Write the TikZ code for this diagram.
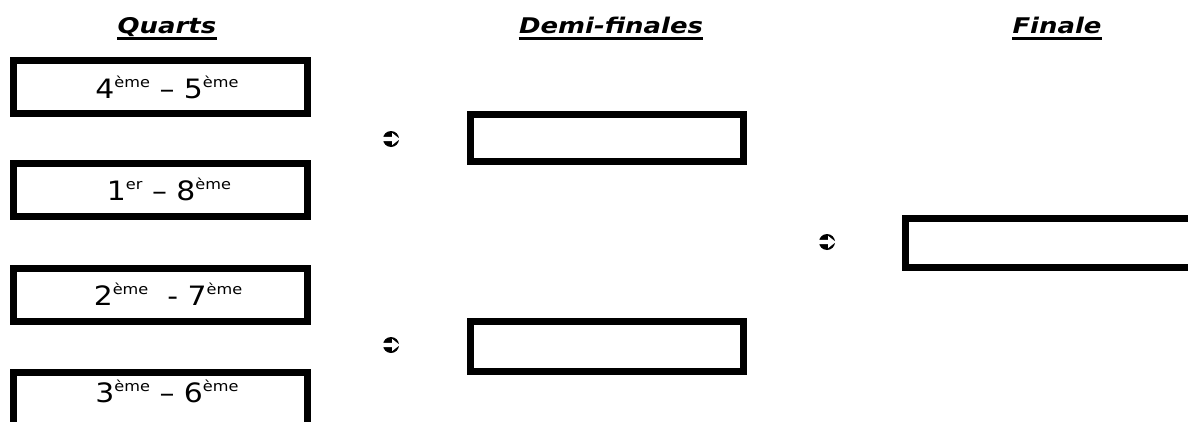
\documentclass[tikz,border=0pt]{standalone}
\usepackage{fontspec}
\usepackage{graphicx}
\setmainfont{DejaVu Sans}
\newcommand\sx[1]{\raisebox{0.40em}{\fontsize{10.8}{12}\selectfont #1}}
\newcommand\wide[1]{\scalebox{1.12}[1]{#1}}
\newcommand\hwide[1]{\scalebox{1.2}[1]{#1}}
\begin{document}
\begin{tikzpicture}[x=0.75pt,y=-0.75pt,
  box/.style={draw=black, line width=5.4pt, fill=white, inner sep=0pt},
  cell/.style={font=\fontsize{20}{24}\selectfont, inner sep=0pt, anchor=base},
  hdr/.style={font=\fontsize{16.2}{19}\selectfont\bfseries\itshape, inner sep=0pt, anchor=base},
  uline/.style={line width=1.9pt},
  arr/.style={circle, fill=black, minimum size=12pt, inner sep=0pt},
  arrw/.style={fill=white}]
\useasboundingbox (0,0) rectangle (1188,421);
\clip (0,0) rectangle (1188,421);
% headers
\node[hdr] (h1) at (167,33) {\hwide{Quarts}};
\node[hdr] (h2) at (611,33) {\hwide{Demi-finales}};
\node[hdr] (h3) at (1057,33) {\hwide{Finale}};
\foreach \h in {h1,h2,h3}{
  \draw[uline] ([yshift=-4.3pt]\h.base west) -- ([yshift=-4.3pt]\h.base east);
}
% quarter boxes
\node[box, minimum width=294*0.75pt, minimum height=53*0.75pt] (q1) at (160.5,87) {};
\node[box, minimum width=294*0.75pt, minimum height=53*0.75pt] (q2) at (160.5,190) {};
\node[box, minimum width=294*0.75pt, minimum height=53*0.75pt] (q3) at (160.5,295) {};
\node[box, minimum width=294*0.75pt, minimum height=53*0.75pt] (q4) at (160.5,399) {};
\node[cell] (t1) at (167,98) {\wide{4\sx{ème} – 5\sx{ème}}};
\node[cell] (t2) at (169,200) {\wide{1\sx{er} – 8\sx{ème}}};
\node[cell] (t3) at (168,305) {\wide{2\sx{ème}\ \ - 7\sx{ème}}};
\node[cell] (t4) at (167,402) {\wide{3\sx{ème} – 6\sx{ème}}};
% semi-final boxes
\node[box, minimum width=273*0.75pt, minimum height=47*0.75pt] (s1) at (607,138) {};
\node[box, minimum width=273*0.75pt, minimum height=50*0.75pt] (s2) at (607,346.5) {};
% final box
\node[box, minimum width=400*0.75pt, minimum height=49*0.75pt] (f1) at (1105.5,243) {};
% arrow symbols
\foreach \n/\p in {a1/{(391,139)}, a2/{(391,345)}, a3/{(827,242)}}{
  \node[arr] (\n) at \p {};
  \fill[arrw] ([xshift=-6.5pt,yshift=1.6pt]\n.center) -- ([xshift=0.8pt,yshift=1.6pt]\n.center)
     -- ([xshift=0.8pt,yshift=4.6pt]\n.center) -- ([xshift=6.6pt]\n.center)
     -- ([xshift=0.8pt,yshift=-4.6pt]\n.center) -- ([xshift=0.8pt,yshift=-1.6pt]\n.center)
     -- ([xshift=-6.5pt,yshift=-1.6pt]\n.center) -- cycle;
}
\end{tikzpicture}
\end{document}
